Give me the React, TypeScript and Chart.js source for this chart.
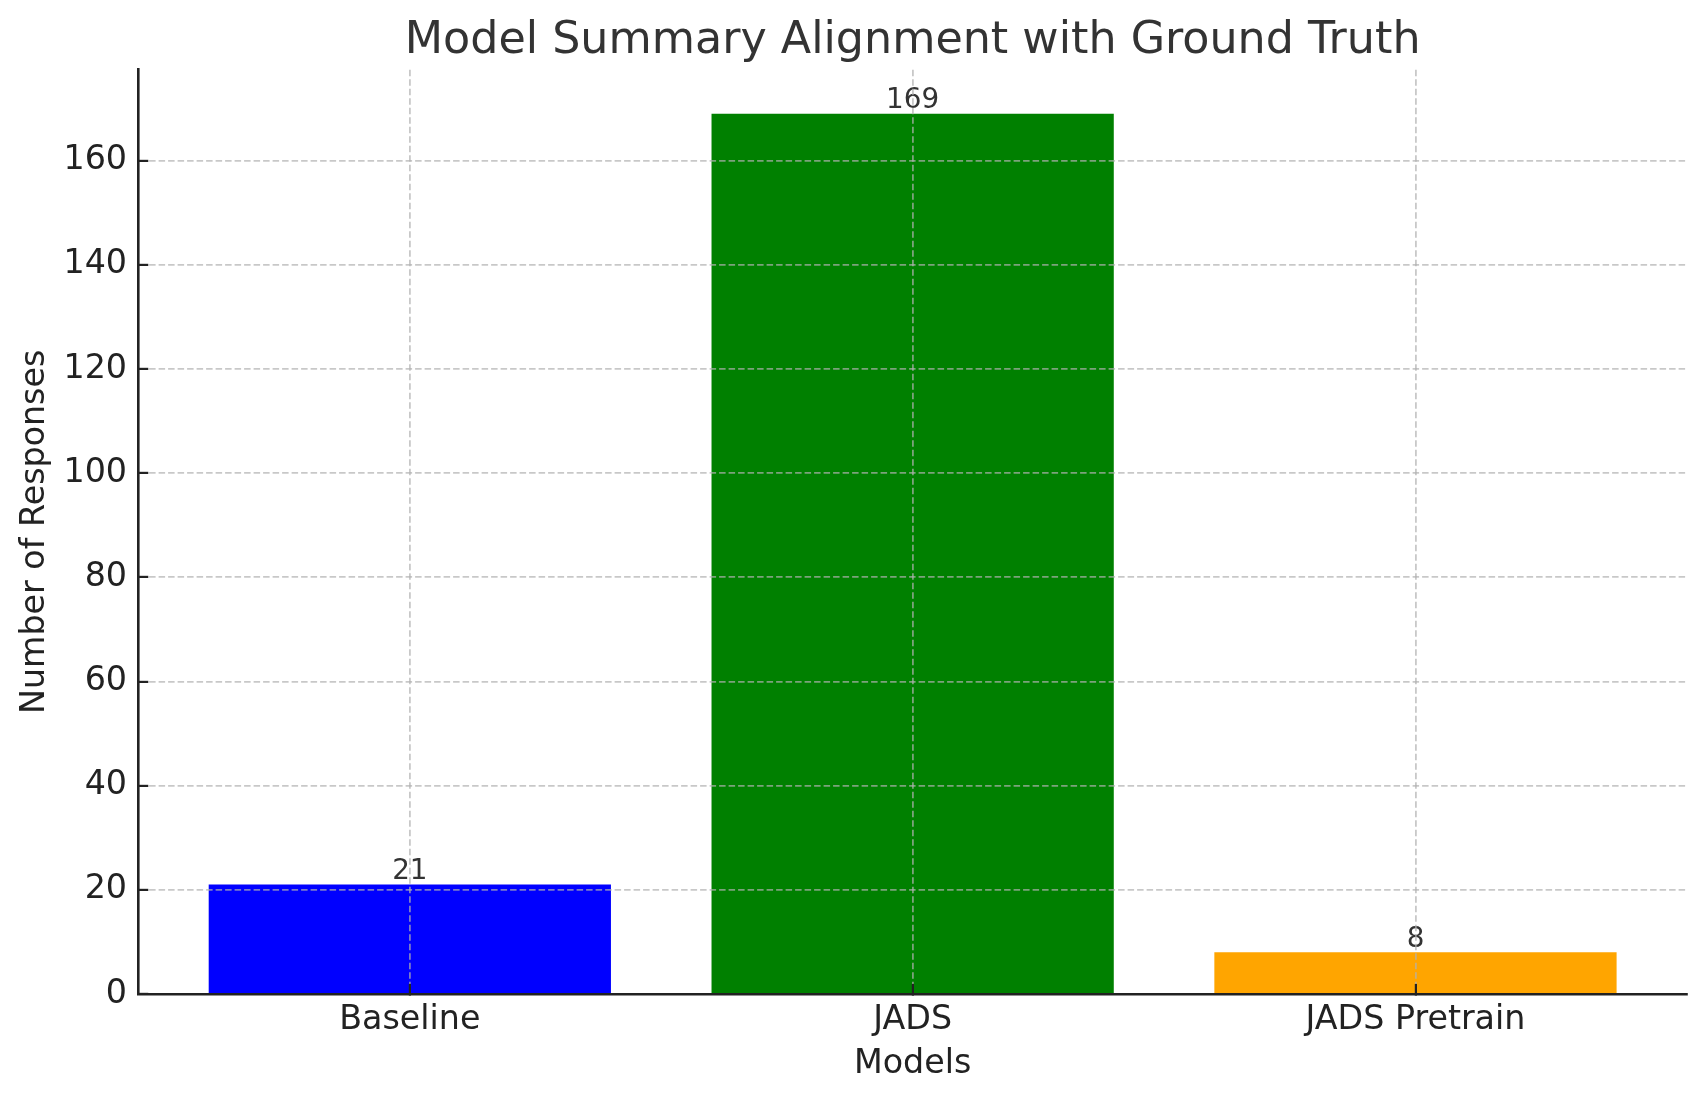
import React, { useEffect, useRef } from 'react'
import { Chart, registerables } from 'chart.js'

Chart.register(...registerables)

// data
const categories = ['Baseline', 'JADS', 'JADS Pretrain']
const responses = [21, 169, 8]
const barColors = ['#0000ff', '#008000', '#ffa500']
const yTicks = [0, 20, 40, 60, 80, 100, 120, 140, 160]

const FONT = "'DejaVu Sans', 'Liberation Sans', sans-serif"

// matplotlib-like autoscale: 5% margin around the data limits
const yMax = Math.max(...responses) * 1.05
const xMin = -0.4 - 0.14
const xMax = categories.length - 1 + 0.4 + 0.14

const barValueLabels = {
  id: 'barValueLabels',
  afterDatasetsDraw(chart: Chart) {
    const { ctx } = chart
    const meta = chart.getDatasetMeta(0)
    ctx.save()
    ctx.font = `27.8px ${FONT}`
    ctx.fillStyle = '#333333'
    ctx.textAlign = 'center'
    ctx.textBaseline = 'alphabetic'
    meta.data.forEach((bar: any, i: number) => {
      ctx.fillText(String(responses[i]), bar.x, bar.y - 5.5)
    })
    ctx.restore()
  },
}

export default function App() {
  const canvasRef = useRef<HTMLCanvasElement>(null)
  const chartRef = useRef<Chart | null>(null)

  useEffect(() => {
    document.body.style.margin = '0'
    if (!canvasRef.current) return

    chartRef.current?.destroy()

    chartRef.current = new Chart(canvasRef.current, {
      type: 'bar',
      data: {
        datasets: [
          {
            label: 'Number of Responses',
            data: responses.map((v, i) => ({ x: i, y: v })),
            backgroundColor: barColors,
            borderWidth: 0,
            barPercentage: 0.8,
            categoryPercentage: 1,
          },
        ],
      },
      plugins: [barValueLabels],
      options: {
        animation: false,
        responsive: true,
        maintainAspectRatio: false,
        layout: { padding: { left: 0, right: 20, top: 0, bottom: 0 } },
        plugins: {
          legend: { display: false },
          tooltip: { enabled: false },
          title: {
            display: true,
            text: 'Model Summary Alignment with Ground Truth',
            color: '#333333',
            fullSize: false,
            font: { family: FONT, size: 44.4, weight: 'normal', lineHeight: 1.2 },
            padding: { top: 14.5, bottom: 2 },
          },
        },
        scales: {
          x: {
            type: 'linear',
            min: xMin,
            max: xMax,
            offset: false,
            afterBuildTicks: (scale: any) => {
              scale.ticks = categories.map((_, i) => ({ value: i }))
            },
            afterFit: (scale: any) => {
              scale.height = 107.1
            },
            ticks: {
              callback: (v: any) => categories[v] ?? '',
              color: '#222222',
              font: { family: FONT, size: 33.3 },
              padding: 16.3,
              maxRotation: 0,
              autoSkip: false,
            },
            grid: {
              offset: false,
              color: 'rgba(176,176,176,0.7)',
              lineWidth: 1.8,
              drawTicks: true,
              tickLength: -10,
              tickColor: '#222222',
              tickWidth: 2.2,
              z: 1,
            },
            border: { display: true, color: '#222222', width: 2.6, dash: [6.5, 3], z: 2 },
            title: {
              display: true,
              text: 'Models',
              color: '#222222',
              font: { family: FONT, size: 33.3, lineHeight: 1.2 },
              padding: { top: 0, bottom: 16.5 },
            },
          },
          y: {
            type: 'linear',
            min: 0,
            max: yMax,
            afterBuildTicks: (scale: any) => {
              scale.ticks = yTicks.map(v => ({ value: v }))
            },
            afterFit: (scale: any) => {
              scale.width = 138.3
            },
            ticks: {
              color: '#222222',
              font: { family: FONT, size: 33.3 },
              padding: 21.3,
            },
            grid: {
              color: 'rgba(176,176,176,0.7)',
              lineWidth: 1.8,
              drawTicks: true,
              tickLength: -10,
              tickColor: '#222222',
              tickWidth: 2.2,
              z: 1,
            },
            border: { display: true, color: '#222222', width: 2.6, dash: [6.5, 3], z: 2 },
            title: {
              display: true,
              text: 'Number of Responses',
              color: '#222222',
              font: { family: FONT, size: 33.3, lineHeight: 1.2 },
              padding: { top: 15.2, bottom: 0 },
            },
          },
        },
      },
    } as any)

    return () => {
      chartRef.current?.destroy()
      chartRef.current = null
    }
  }, [])

  return (
    <div style={{ width: 1707, height: 1101, position: 'relative', background: '#ffffff' }}>
      <canvas ref={canvasRef} />
    </div>
  )
}
